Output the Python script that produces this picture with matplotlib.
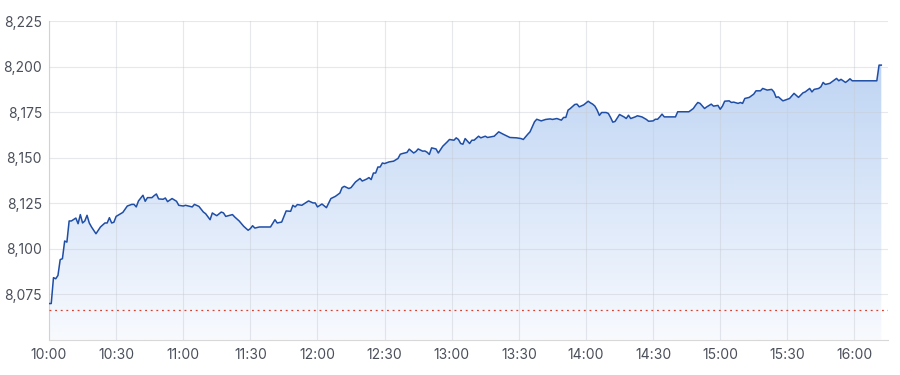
#! /bin/env python3

# Intraday index chart: price line with a gradient area and a dotted previous-close line.

import matplotlib
matplotlib.use('Agg')
import matplotlib.pyplot as plt
from matplotlib.ticker import FuncFormatter, MultipleLocator
from matplotlib.colors import LinearSegmentedColormap
import numpy as np

# minutes after 10:00 and index level
minutes = [0, 1, 2, 3, 4, 5, 6, 7, 8, 9, 10, 12, 13, 14, 15, 16, 17, 18, 19, 21,
           22, 23, 25, 26, 27, 28, 29, 30, 32, 33, 35, 37, 38, 39, 40, 42, 43, 44, 46, 47,
           48, 49, 51, 52, 53, 55, 57, 58, 60, 61, 64, 65, 67, 69, 70, 72, 73, 74, 75, 77,
           78, 79, 82, 83, 85, 87, 89, 90, 91, 92, 94, 96, 99, 101, 102, 104, 106, 108, 109, 110,
           111, 113, 116, 118, 119, 120, 122, 124, 126, 128, 130, 131, 132, 134, 135, 137, 139, 140, 142, 143,
           144, 145, 146, 147, 148, 149, 150, 152, 154, 156, 157, 158, 160, 161, 163, 164, 165, 167, 168, 169,
           170, 171, 173, 174, 176, 178, 179, 181, 182, 183, 184, 185, 186, 188, 189, 190, 192, 193, 195, 196,
           199, 201, 203, 206, 209, 211, 212, 214, 215, 217, 218, 220, 222, 224, 225, 227, 229, 230, 231, 232,
           233, 235, 236, 237, 239, 241, 242, 243, 244, 245, 246, 247, 249, 250, 251, 252, 253, 255, 257, 258,
           259, 260, 262, 263, 265, 267, 268, 270, 271, 272, 273, 274, 275, 278, 280, 281, 284, 286, 288, 289,
           290, 291, 293, 294, 296, 297, 299, 300, 301, 302, 304, 305, 306, 308, 309, 310, 311, 313, 314, 315,
           316, 318, 319, 321, 323, 324, 325, 326, 328, 329, 331, 333, 335, 337, 338, 340, 341, 342, 344, 345,
           346, 347, 349, 351, 352, 353, 354, 356, 357, 358, 359, 370, 371, 372]

prices = [8070.0, 8070.0, 8084.2, 8083.6, 8085.4, 8094.1, 8094.6, 8104.3, 8103.7, 8115.3, 8115.3, 8116.9, 8113.8, 8118.8, 8114.2, 8115.3, 8118.4, 8114.2, 8112.0, 8108.3,
          8110.2, 8112.0, 8114.2, 8114.2, 8117.1, 8114.2, 8114.6, 8117.8, 8119.3, 8120.0, 8123.5, 8124.4, 8124.4, 8123.0, 8126.3, 8129.4, 8126.1, 8128.1, 8128.1, 8129.2,
          8130.1, 8127.4, 8127.2, 8127.9, 8125.9, 8127.6, 8126.1, 8123.9, 8123.5, 8123.9, 8123.0, 8124.4, 8123.3, 8120.2, 8119.3, 8116.0, 8119.7, 8118.9, 8118.2, 8120.2,
          8119.7, 8117.8, 8118.8, 8117.5, 8115.3, 8112.4, 8110.2, 8111.1, 8112.7, 8111.4, 8112.0, 8112.0, 8112.0, 8116.0, 8114.2, 8114.7, 8120.8, 8120.6, 8123.9, 8123.0,
          8124.3, 8123.9, 8126.3, 8125.2, 8125.2, 8123.0, 8124.6, 8122.6, 8127.6, 8128.8, 8130.6, 8133.6, 8134.3, 8133.1, 8133.6, 8136.7, 8138.6, 8137.2, 8138.3, 8139.1,
          8138.0, 8141.6, 8141.6, 8144.9, 8144.9, 8147.1, 8146.8, 8147.7, 8148.1, 8149.6, 8151.9, 8152.3, 8152.9, 8154.7, 8152.6, 8153.4, 8154.8, 8153.6, 8153.7, 8153.0,
          8151.8, 8155.4, 8154.8, 8152.6, 8156.3, 8158.7, 8160.0, 8159.6, 8160.9, 8160.0, 8157.8, 8157.4, 8160.5, 8157.8, 8159.6, 8159.6, 8161.8, 8160.9, 8161.8, 8161.1,
          8161.8, 8164.2, 8162.9, 8161.1, 8160.9, 8160.5, 8160.0, 8162.9, 8164.2, 8169.7, 8171.1, 8170.2, 8171.0, 8171.3, 8171.0, 8171.5, 8170.6, 8172.1, 8172.1, 8176.1,
          8177.0, 8179.2, 8179.4, 8177.9, 8179.0, 8181.0, 8180.1, 8179.4, 8178.3, 8176.1, 8173.2, 8174.8, 8174.8, 8174.3, 8172.1, 8169.5, 8169.9, 8173.7, 8172.4, 8171.5,
          8173.3, 8171.5, 8172.4, 8173.0, 8172.4, 8171.0, 8170.0, 8170.2, 8171.1, 8171.1, 8172.4, 8173.9, 8172.4, 8172.4, 8172.4, 8175.2, 8175.2, 8175.2, 8177.0, 8178.8,
          8180.3, 8179.8, 8177.0, 8177.9, 8179.4, 8178.3, 8178.7, 8176.6, 8178.3, 8181.0, 8181.2, 8180.3, 8180.5, 8179.8, 8180.3, 8179.8, 8182.5, 8183.1, 8184.0, 8184.9,
          8186.7, 8186.7, 8188.0, 8187.1, 8187.5, 8186.1, 8183.1, 8183.4, 8181.2, 8181.6, 8182.5, 8185.3, 8183.1, 8185.6, 8186.1, 8188.0, 8186.1, 8187.5, 8188.0, 8188.9,
          8191.3, 8190.2, 8190.8, 8192.6, 8193.5, 8192.2, 8193.0, 8191.3, 8192.2, 8193.3, 8192.2, 8192.2, 8200.8, 8200.8]

prev_close = 8066.7
y_ticks = [8075, 8100, 8125, 8150, 8175, 8200, 8225]

x = np.array(minutes)
y = np.array(prices)
ymin, ymax = 8050, 8225
xmin, xmax = 0, 375

plt.rcParams['font.family'] = ['Inter', 'DejaVu Sans']

fig = plt.figure(figsize=(9, 3.75), dpi=100)
ax = fig.add_axes([49/900, 35/375, 839/900, 319/375])

# gradient area under the line
cmap = LinearSegmentedColormap.from_list('fade', ['#f8fafe', '#b6cff2'])
grad = np.linspace(0, 1, 256).reshape(-1, 1)
img = ax.imshow(grad, cmap=cmap, aspect='auto', origin='lower',
                extent=[xmin, xmax, ymin, ymax], zorder=1)
poly = ax.fill_between(x, y, ymin, color='none', lw=0)
img.set_clip_path(poly.get_paths()[0], transform=ax.transData)

ax.plot(x, y, color='#1f4ea6', lw=1.1, zorder=4)
ax.axhline(prev_close, color='#d9412e', lw=0.9, ls=(0, (1.5, 3)), zorder=3)

ax.set_xlim(xmin, xmax)
ax.set_ylim(ymin, ymax)
ax.xaxis.set_major_locator(MultipleLocator(30))
ax.xaxis.set_major_formatter(FuncFormatter(lambda v, p: '{}:{:02d}'.format(10 + int(v) // 60, int(v) % 60)))
ax.set_yticks(y_ticks)
ax.yaxis.set_major_formatter(FuncFormatter(lambda v, p: '{:,.0f}'.format(v)))

# grid drawn over the fill, faint
ax.grid(True, color='#c8ccd4', alpha=0.45, lw=0.8, zorder=2)
ax.set_axisbelow(False)
for s in ['top', 'right']:
    ax.spines[s].set_visible(False)
for s in ['left', 'bottom']:
    ax.spines[s].set_color('#d8d8d8')
ax.tick_params(axis='both', length=0, labelsize=10, colors='#4a4f5a')
ax.tick_params(axis='x', pad=6)
ax.tick_params(axis='y', pad=5)

fig.savefig('out.png', dpi=100)
